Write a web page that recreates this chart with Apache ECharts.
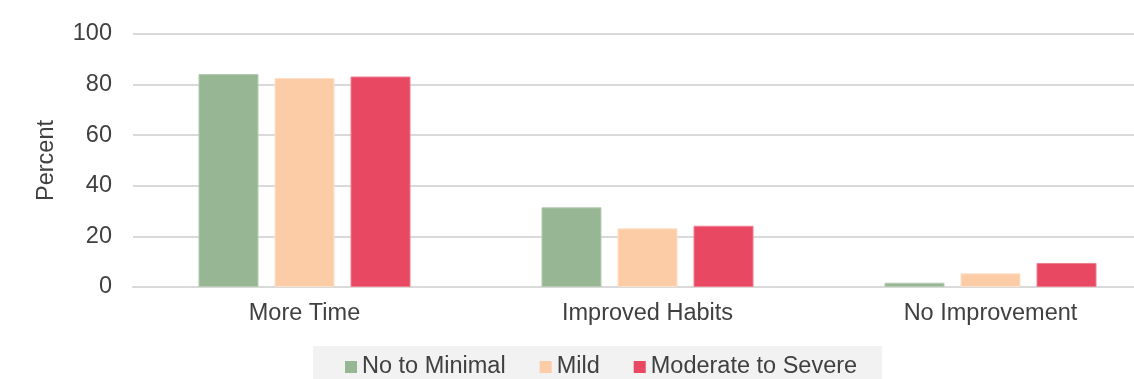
<!DOCTYPE html>
<html>
<head>
<meta charset="utf-8">
<script src="https://cdn.jsdelivr.net/npm/echarts@6/dist/echarts.min.js"></script>
<style>
html,body{margin:0;padding:0;background:#fff;overflow:hidden;width:1134px;height:379px;}
#chart{width:1200px;height:379px;}
</style>
</head>
<body>
<div id="chart"></div>
<script>
const categories = ['More Time', 'Improved Habits', 'No Improvement'];
const seriesNames = ['No to Minimal', 'Mild', 'Moderate to Severe'];
const noToMinimal = [84.2, 31.5, 1.7];
const mild = [82.6, 23.2, 5.4];
const moderateToSevere = [83.2, 24.2, 9.5];
const yTicks = [0, 20, 40, 60, 80, 100];
const colors = ['#97b794', '#fccca6', '#e84861'];
const borders = ['#b5cbb2', '#fde0c8', '#ef7f91'];

const chart = echarts.init(document.getElementById('chart'), null, {renderer: 'canvas'});
const font = 'Liberation Sans, Arial, sans-serif';
const fs = 23.5;
const dataSets = [noToMinimal, mild, moderateToSevere];
chart.setOption({
  animation: false,
  textStyle: {fontFamily: font},
  grid: {left: 133, top: 34, width: 1029, height: 253, containLabel: false},
  legend: {
    data: seriesNames,
    top: 346,
    left: 313,
    backgroundColor: '#f2f2f2',
    padding: [9, 25, 10, 32],
    itemWidth: 12,
    itemHeight: 12,
    itemGap: 34,
    icon: 'rect',
    itemStyle: {borderWidth: 0},
    textStyle: {fontSize: fs, color: '#404040', fontFamily: font}
  },
  xAxis: {
    type: 'category',
    data: categories,
    axisLine: {lineStyle: {color: '#d9d9d9', width: 2}},
    axisTick: {show: false},
    axisLabel: {fontSize: fs, color: '#404040', margin: 15, fontFamily: font}
  },
  yAxis: {
    type: 'value',
    min: 0, max: 100, interval: 20,
    name: 'Percent',
    nameLocation: 'middle',
    nameGap: 74,
    nameTextStyle: {fontSize: fs, color: '#404040', fontFamily: font},
    axisLine: {show: false},
    axisTick: {show: false},
    axisLabel: {fontSize: fs, color: '#404040', margin: 21, fontFamily: font,
      formatter: v => yTicks.includes(v) ? String(v) : ''},
    splitLine: {lineStyle: {color: '#d9d9d9', width: 2}}
  },
  series: seriesNames.map((n, i) => ({
    name: n,
    type: 'bar',
    data: dataSets[i],
    barWidth: 60,
    barGap: '26.7%',
    itemStyle: {color: colors[i], borderColor: borders[i], borderWidth: 1}
  }))
});
</script>
</body>
</html>
